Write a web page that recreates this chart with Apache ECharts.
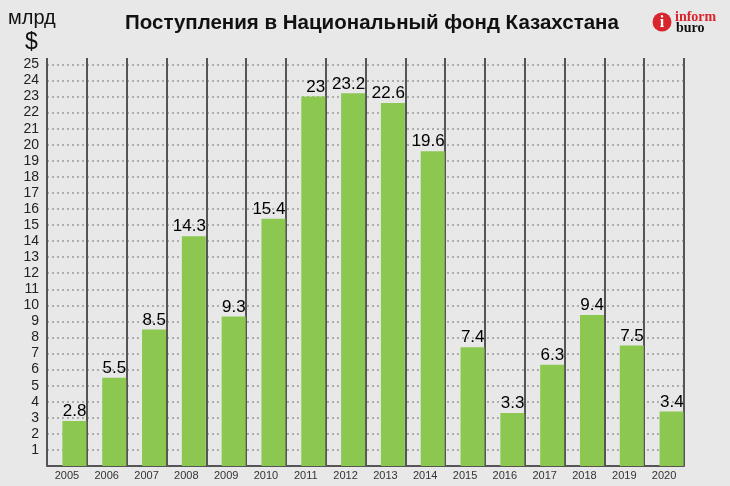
<!DOCTYPE html>
<html>
<head>
<meta charset="utf-8">
<script src="https://cdn.jsdelivr.net/npm/echarts@6/dist/echarts.min.js"></script>
<style>
html,body{margin:0;padding:0;background:#e8e8e8;}
#c{width:730px;height:486px;}
</style>
</head>
<body>
<div id="c"></div>
<script>
const years = ['2005','2006','2007','2008','2009','2010','2011','2012','2013','2014','2015','2016','2017','2018','2019','2020'];
const values = [2.8,5.5,8.5,14.3,9.3,15.4,23,23.2,22.6,19.6,7.4,3.3,6.3,9.4,7.5,3.4];
const spacer = years.map(() => null);
const titleText = 'Поступления в Национальный фонд Казахстана';
const unitLine1 = 'млрд';
const unitLine2 = '$';

const chart = echarts.init(document.getElementById('c'), null, {renderer:'canvas'});
const FONT = 'Liberation Sans, Arial, sans-serif';
chart.setOption({
  backgroundColor: '#e8e8e8',
  animation: false,
  title: {
    text: titleText,
    left: 120, top: 8,
    textStyle: {fontFamily: FONT, fontSize: 20.5, fontWeight: 'bold', color: '#111'}
  },
  grid: {left: 47, right: 46, top: 58, bottom: 20},
  xAxis: {
    type: 'category',
    data: years,
    boundaryGap: true,
    axisLine: {show: true, lineStyle: {color: '#555', width: 2}},
    axisTick: {show: false},
    axisLabel: {fontFamily: FONT, fontSize: 11, color: '#333', margin: 4},
    splitLine: {show: true, lineStyle: {color: '#555', width: 2}}
  },
  yAxis: {
    type: 'value',
    min: 0, max: 25.4, interval: 1,
    axisLine: {show: false},
    axisTick: {show: false},
    axisLabel: {
      fontFamily: FONT, fontSize: 14, color: '#222', margin: 8,
      formatter: v => (v > 0 && v <= 25 && Number.isInteger(v)) ? String(v) : ''
    },
    splitLine: {show: true, showMinLine: false, showMaxLine: false,
      lineStyle: {color: '#999', width: 1.5, type: [2, 3]}}
  },
  series: [
    {type: 'bar', data: spacer, barWidth: 15, barGap: 0, itemStyle: {color: 'rgba(0,0,0,0)'}, silent: true},
    {
      type: 'bar', data: values, barWidth: 24, barGap: 0,
      itemStyle: {color: '#8cc850'},
      label: {
        show: true, position: 'top', distance: 1, align: 'right', offset: [12, 0],
        fontFamily: FONT, fontSize: 17, color: '#000'
      }
    }
  ],
  graphic: [
    {type: 'text', left: 8, top: 8, style: {text: unitLine1, font: '20px ' + FONT, fill: '#111'}},
    {type: 'text', left: 25, top: 31, style: {text: unitLine2, font: '23px ' + FONT, fill: '#111'}},
    {type: 'circle', shape: {cx: 662, cy: 22, r: 9.5}, style: {fill: '#d9232d'}},
    {type: 'text', x: 662, y: 23, style: {text: 'i', font: 'bold 16px Liberation Serif, serif', fill: '#fff', align: 'center', verticalAlign: 'middle'}},
    {type: 'text', x: 675, y: 17, style: {text: 'inform', font: 'bold 14px Liberation Serif, serif', fill: '#d9232d', verticalAlign: 'middle'}},
    {type: 'text', x: 676, y: 28.5, style: {text: 'buro', font: 'bold 14px Liberation Serif, serif', fill: '#111', verticalAlign: 'middle'}}
  ]
});
</script>
</body>
</html>
